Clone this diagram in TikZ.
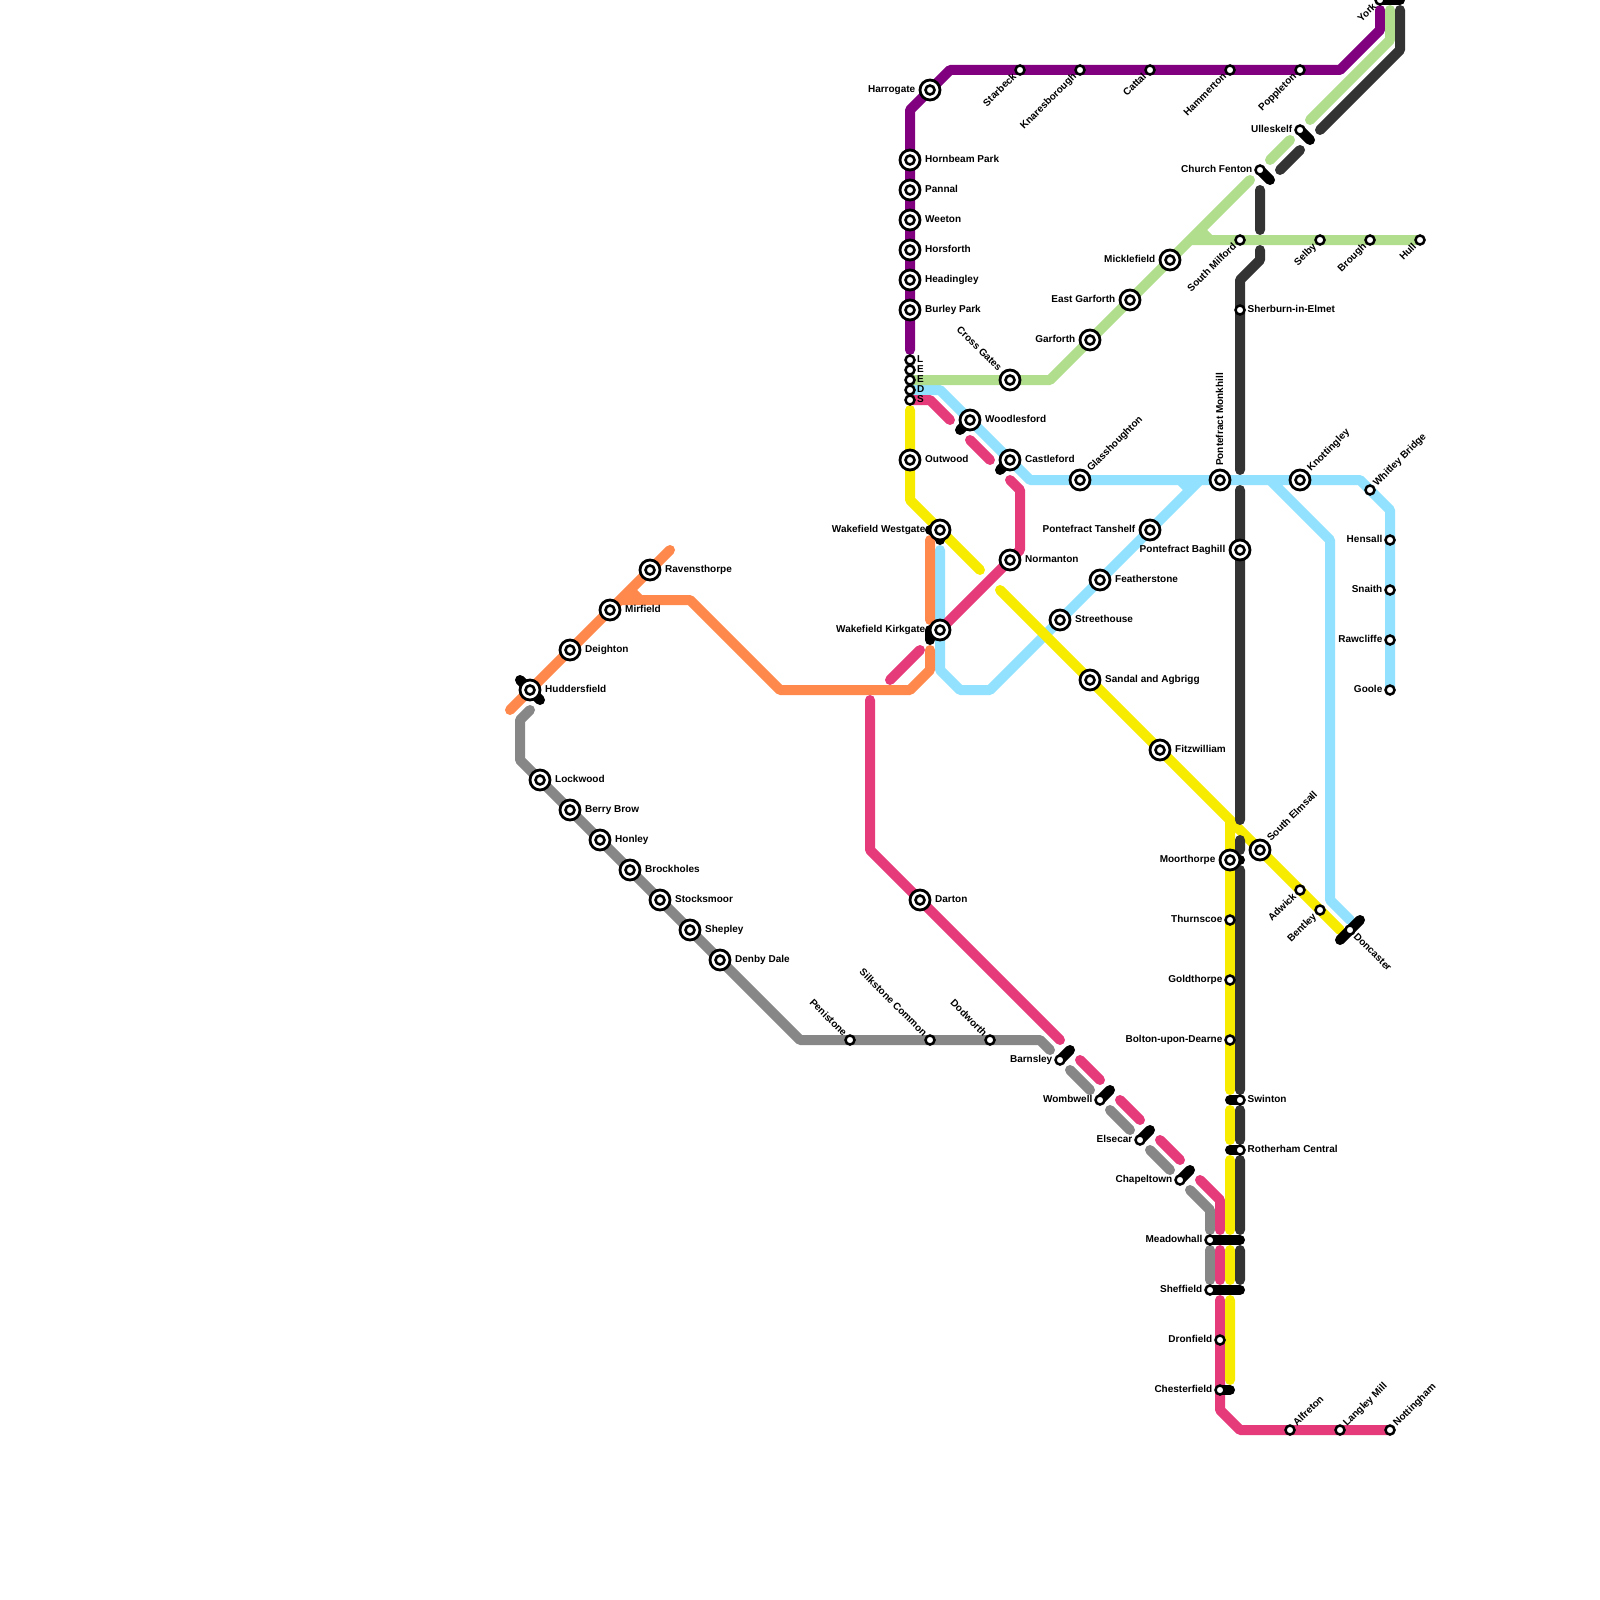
\documentclass[tikz,border=0pt]{standalone}
\usepackage{fontspec}
\setmainfont{Liberation Sans}
\pgfdeclarelayer{lines}
\pgfdeclarelayer{bars}
\pgfsetlayers{lines,bars,main}
\definecolor{cgrey}{HTML}{878787}
\definecolor{cdark}{HTML}{333333}
\definecolor{cpurple}{HTML}{800080}
\definecolor{cgreen}{HTML}{B0DE8C}
\definecolor{cblue}{HTML}{92E2FF}
\definecolor{corange}{HTML}{FF884D}
\definecolor{cpink}{HTML}{E63B7A}
\definecolor{cyellow}{HTML}{F7EB00}
\tikzset{
 route/.style={line width=10pt,line cap=round,line join=round},
 barlink/.style={route,draw=black},
 bigst/.style={circle,draw=black,fill=white,line width=2.8pt,minimum size=20pt,inner sep=0pt,outer sep=0pt,
   path picture={\draw[black,line width=2.6pt] (path picture bounding box.center) circle (4.5);}},
 smallst/.style={circle,draw=black,fill=white,line width=2.5pt,minimum size=9pt,inner sep=0pt,outer sep=0pt},
 lab/.style={font=\bfseries\fontsize{10pt}{10pt}\selectfont,inner sep=0pt,text=black},
}
\begin{document}
\begin{tikzpicture}[x=1pt,y=-1pt]
\useasboundingbox (0,0) rectangle (1600,1600);
% interchange stations, labels to the right
\foreach \n/\x/\y/\txt in {hornbeam/910/160/Hornbeam Park,pannal/910/190/Pannal,weeton/910/220/Weeton,horsforth/910/250/Horsforth,headingley/910/280/Headingley,burley/910/310/Burley Park,outwood/910/460/Outwood,woodlesford/970/420/Woodlesford,castleford/1010/460/Castleford,normanton/1010/560/Normanton,featherstone/1100/580/Featherstone,streethouse/1060/620/Streethouse,sandal/1090/680/Sandal and Agbrigg,fitzwilliam/1160/750/Fitzwilliam,ravensthorpe/650/570/Ravensthorpe,mirfield/610/610/Mirfield,deighton/570/650/Deighton,huddersfield/530/690/Huddersfield,lockwood/540/780/Lockwood,berry/570/810/Berry Brow,honley/600/840/Honley,brockholes/630/870/Brockholes,stocksmoor/660/900/Stocksmoor,shepley/690/930/Shepley,denby/720/960/Denby Dale,darton/920/900/Darton}
 {\node[bigst] (\n) at (\x,\y) {}; \node[lab,anchor=base west] (l\n) at (\x+15,\y+2.3) {\txt};}
% interchange stations, labels to the left
\foreach \n/\x/\y/\txt in {harrogate/930/90/Harrogate,westgate/940/530/Wakefield Westgate,kirkgate/940/630/Wakefield Kirkgate,garforth/1090/340/Garforth,eastgarforth/1130/300/East Garforth,micklefield/1170/260/Micklefield,tanshelf/1150/530/Pontefract Tanshelf,baghill/1240/550/Pontefract Baghill,moorthorpe/1230/860/Moorthorpe}
 {\node[bigst] (\n) at (\x,\y) {}; \node[lab,anchor=base east] (l\n) at (\x-14.5,\y+2.3) {\txt};}
% interchange stations, labels rotated
\node[bigst] (crossgates) at (1010,380) {};
\node[lab,anchor=base east,rotate=-45] (lcrossgates) at (998,372) {Cross Gates};
\foreach \n/\x/\y/\txt in {glasshoughton/1080/480/Glasshoughton,knottingley/1300/480/Knottingley,elmsall/1260/850/South Elmsall}
 {\node[bigst] (\n) at (\x,\y) {}; \node[lab,anchor=base west,rotate=45] (l\n) at (\x+11,\y-8) {\txt};}
\node[bigst] (monkhill) at (1220,480) {};
\node[lab,anchor=base west,rotate=90] (lmonkhill) at (1223,466) {Pontefract Monkhill};
% small stations
\foreach \n/\x/\y/\txt in {sherburn/1240/310/Sherburn-in-Elmet,swinton/1240/1100/Swinton,rotherham/1240/1150/Rotherham Central}
 {\node[smallst] (\n) at (\x,\y) {}; \node[lab,anchor=base west] (l\n) at (\x+7.5,\y+2.3) {\txt};}
\foreach \n/\x/\y/\txt in {ulleskelf/1300/130/Ulleskelf,churchfenton/1260/170/Church Fenton,hensall/1390/540/Hensall,snaith/1390/590/Snaith,rawcliffe/1390/640/Rawcliffe,goole/1390/690/Goole,thurnscoe/1230/920/Thurnscoe,goldthorpe/1230/980/Goldthorpe,bolton/1230/1040/Bolton-upon-Dearne,barnsley/1060/1060/Barnsley,wombwell/1100/1100/Wombwell,elsecar/1140/1140/Elsecar,chapeltown/1180/1180/Chapeltown,meadowhall/1210/1240/Meadowhall,sheffield/1210/1290/Sheffield,dronfield/1220/1340/Dronfield,chesterfield/1220/1390/Chesterfield}
 {\node[smallst] (\n) at (\x,\y) {}; \node[lab,anchor=base east] (l\n) at (\x-7.5,\y+2.3) {\txt};}
\foreach \n/\x/\y/\txt in {starbeck/1020/70/Starbeck,knaresborough/1080/70/Knaresborough,cattal/1150/70/Cattal,hammerton/1230/70/Hammerton,poppleton/1300/70/Poppleton,york/1380/0/York,southmilford/1240/240/South Milford,selby/1320/240/Selby,brough/1370/240/Brough,hull/1420/240/Hull,adwick/1300/890/Adwick,bentley/1320/910/Bentley}
 {\node[smallst] (\n) at (\x,\y) {}; \node[lab,anchor=base east,rotate=45] (l\n) at (\x-3,\y+7) {\txt};}
\foreach \n/\x/\y/\txt in {penistone/850/1040/Penistone,silkstone/930/1040/Silkstone Common,dodworth/990/1040/Dodworth}
 {\node[smallst] (\n) at (\x,\y) {}; \node[lab,anchor=base east,rotate=-45] (l\n) at (\x-7,\y-3) {\txt};}
\foreach \n/\x/\y/\txt in {whitley/1370/490/Whitley Bridge,alfreton/1290/1430/Alfreton,langley/1340/1430/Langley Mill,nottingham/1390/1430/Nottingham}
 {\node[smallst] (\n) at (\x,\y) {}; \node[lab,anchor=base west,rotate=45] (l\n) at (\x+7,\y-3) {\txt};}
\node[smallst] (doncaster) at (1350,930) {};
\node[lab,anchor=base west,rotate=-45] (ldoncaster) at (1353,937) {Doncaster};
% Leeds
\foreach \n/\y/\txt in {leedsl/360/L,leedse/370/E,leedsf/380/E,leedsd/390/D,leedss/400/S}
 {\node[smallst] (\n) at (910,\y) {}; \node[lab,anchor=base west] (l\n) at (917,\y+2.8) {\txt};}
% way points
\foreach \n/\x/\y in {
 pa/1380/10,pb/1380/30,pc/1340/70,pd/950/70,pe/910/110,pf/910/350,
 ga/1050/380,gb/1250/180,gc/1270/160,gd/1290/140,ge/1310/120,gf/1390/40,gg/1390/10,gh/1190/240,gi/1200/230,gj/1210/240,
 da/1400/10,db/1400/50,dc/1320/130,dd/1300/150,de/1280/170,df/1260/190,dg/1260/230,dh/1260/250,di/1260/260,dj/1240/280,dk/1240/470,dl/1240/490,dm/1240/820,dn/1240/840,do/1240/850,dp/1240/870,dq/1240/1090,dr/1240/1110,ds/1240/1140,dt/1240/1160,du/1240/1230,dv/1240/1250,dw/1240/1280,
 ya/910/410,yb/910/500,yc/980/570,yd/1000/590,ye/1340/930,yf/1230/820,yg/1230/1090,yh/1230/1110,yi/1230/1140,yj/1230/1160,yk/1230/1230,yl/1230/1250,ym/1230/1280,yn/1230/1300,yo/1230/1380,
 ka/930/400,kb/950/420,kc/970/440,kd/990/460,ke/1010/480,kf/1020/490,kg/1020/550,kh/920/650,ki/890/680,kj/870/700,kk/870/850,kl/1060/1040,km/1080/1060,kn/1100/1080,ko/1120/1100,kp/1140/1120,kq/1160/1140,kr/1180/1160,ks/1200/1180,kt/1220/1200,ku/1220/1230,kv/1220/1250,kw/1220/1280,kx/1220/1300,ky/1220/1410,kz/1240/1430,
 ea/530/710,eb/520/720,ec/520/760,ed/800/1040,ee/1040/1040,ef/1050/1050,eg/1070/1070,eh/1090/1090,ei/1110/1110,ej/1130/1130,ek/1150/1150,el/1170/1170,em/1190/1190,en/1210/1210,eo/1210/1230,ep/1210/1250,eq/1210/1280,
 oa/510/710,ob/670/550,oc/630/590,od/640/600,oe/620/600,of/690/600,og/780/690,oh/910/690,oi/930/670,oj/930/650,ok/930/540,ol/930/620,
 ba/940/390,bb/1030/480,bc/1360/480,bd/1390/510,be/940/550,bf/940/670,bg/960/690,bh/990/690,bi/1200/480,bj/1270/480,bk/1330/540,bl/1330/900,bm/1350/920,bn/1180/480,bo/1190/490,
 xa/1400/0,xb/1270/180,xc/1310/140,xd/1070/1050,xe/1110/1090,xf/1150/1130,xg/1190/1170,xh/520/680,xi/540/700,xj/930/530,xk/940/540,xl/930/630,xm/930/640,xn/960/430,xo/1000/470,xp/1340/940,xq/1360/920,xr/1230/1100,xs/1230/1150,xt/1240/1240,xu/1240/1290,xv/1230/1390,xw/1240/860}
 {\coordinate (\n) at (\x,\y);}
\begin{pgfonlayer}{lines}
\draw[route,cgrey] (ea)--(eb)--(ec)--(ed)--(ee)--(ef) (eg)--(eh) (ei)--(ej) (ek)--(el) (em)--(en)--(eo) (ep)--(eq);
\draw[route,cpurple] (pa)--(pb)--(pc)--(pd)--(pe)--(pf);
\draw[route,cblue] (leedsd.center)--(ba)--(bb)--(bc)--(bd)--(goole.center) (be)--(bf)--(bg)--(bh)--(bi) (bn)--(bo) (bj)--(bk)--(bl)--(bm);
\draw[route,cgreen] (leedsf.center)--(ga)--(gb) (gc)--(gd) (ge)--(gf)--(gg) (gh)--(hull.center) (gi)--(gj);
\draw[route,corange] (oa)--(ob) (oc)--(od) (oe)--(of)--(og)--(oh)--(oi)--(oj) (ok)--(ol);
\draw[route,cpink] (leedss.center)--(ka)--(kb) (kc)--(kd) (ke)--(kf)--(kg)--(normanton.center)--(kirkgate.center) (kh)--(ki) (kj)--(kk)--(kl) (km)--(kn) (ko)--(kp) (kq)--(kr) (ks)--(kt)--(ku) (kv)--(kw) (kx)--(ky)--(kz)--(nottingham.center);
\draw[route,cyellow] (ya)--(yb)--(yc) (yd)--(ye) (yf)--(yg) (yh)--(yi) (yj)--(yk) (yl)--(ym) (yn)--(yo);
\draw[route,cdark] (da)--(db)--(dc) (dd)--(de) (df)--(dg) (dh)--(di)--(dj)--(dk) (dl)--(dm) (dn)--(do) (dp)--(dq) (dr)--(ds) (dt)--(du) (dv)--(dw);
\end{pgfonlayer}
\begin{pgfonlayer}{bars}
\draw[barlink] (york.center)--(xa);
\draw[barlink] (churchfenton.center)--(xb);
\draw[barlink] (ulleskelf.center)--(xc);
\draw[barlink] (barnsley.center)--(xd);
\draw[barlink] (wombwell.center)--(xe);
\draw[barlink] (elsecar.center)--(xf);
\draw[barlink] (chapeltown.center)--(xg);
\draw[barlink] (xh)--(xi);
\draw[barlink] (xj)--(westgate.center)--(xk);
\draw[barlink] (kirkgate.center)--(xl)--(xm);
\draw[barlink] (woodlesford.center)--(xn);
\draw[barlink] (castleford.center)--(xo);
\draw[barlink] (xp)--(xq);
\draw[barlink] (xr)--(swinton.center);
\draw[barlink] (xs)--(rotherham.center);
\draw[barlink] (meadowhall.center)--(xt);
\draw[barlink] (sheffield.center)--(xu);
\draw[barlink] (chesterfield.center)--(xv);
\draw[barlink] (moorthorpe.center)--(xw);
\end{pgfonlayer}
\end{tikzpicture}
\end{document}
